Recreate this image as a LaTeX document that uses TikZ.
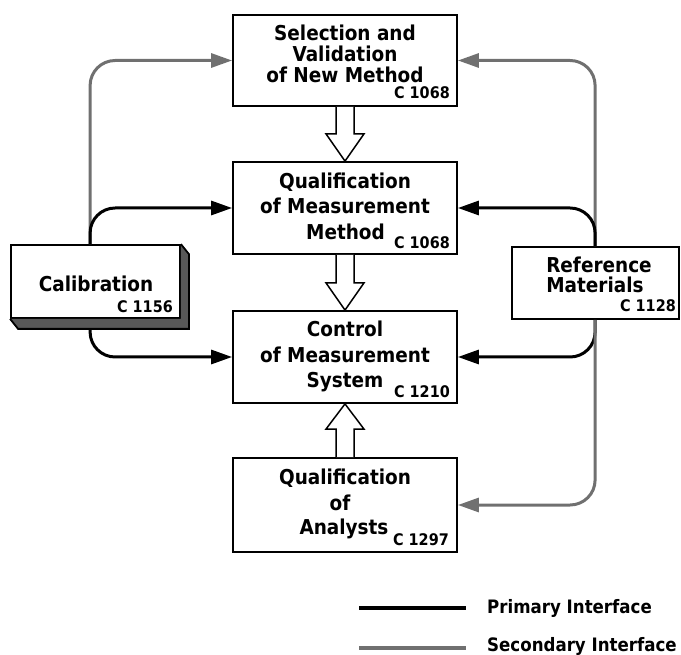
\documentclass[tikz,border=0pt]{standalone}
\usepackage{fontspec}
\IfFontExistsTF{DejaVu Sans Condensed Bold}{\setmainfont{DejaVu Sans Condensed Bold}}{\setmainfont{DejaVu Sans Bold}[FakeStretch=0.9]}
\usetikzlibrary{arrows.meta,calc}
\definecolor{secgray}{HTML}{707070}
\definecolor{shadegray}{HTML}{585858}
\begin{document}
\begin{tikzpicture}[x=1pt,y=-1pt,
  box/.style={draw, line width=1.8pt, minimum width=224pt, inner sep=0pt, fill=white},
  sidebox/.style={draw, line width=1.8pt, inner sep=0pt, fill=white},
  txt/.style={font=\fontsize{20.5}{23}\selectfont, anchor=base, inner sep=0pt},
  code/.style={font=\fontsize{16}{18}\selectfont, anchor=base east, inner sep=0pt},
  legtxt/.style={font=\fontsize{18.5}{20}\selectfont, anchor=base west, inner sep=0pt},
  prim/.style={line width=3pt, rounded corners=25pt},
  sec/.style={line width=3pt, draw=secgray, rounded corners=25pt},
  tip/.style={-{Triangle[length=21pt,width=14pt]}},
  hollow/.style={draw, line width=1.5pt, fill=white, line join=miter}
]
\useasboundingbox (0,0) rectangle (681,655);

% main boxes
\node[box, minimum height=91pt] (b1) at (345,60.5) {};
\node[box, minimum height=92pt] (b2) at (345,208) {};
\node[box, minimum height=92pt] (b3) at (345,357) {};
\node[box, minimum height=94pt] (b4) at (345,505) {};

% side boxes
\node[sidebox, minimum width=169pt, minimum height=73pt] (cal) at (95.5,281.5) {};
\fill[shadegray] (cal.north east) -- ($(cal.north east)+(8,10)$) -- ($(cal.south east)+(8,10)$)
  -- ($(cal.south west)+(8,10)$) -- (cal.south west) -- (cal.south east) -- cycle;
\draw[line width=1.8pt, line join=miter] (cal.north east) -- ($(cal.north east)+(8,10)$) -- ($(cal.south east)+(8,10)$)
  -- ($(cal.south west)+(8,10)$) -- (cal.south west);
\node[sidebox, minimum width=167pt, minimum height=72pt] (ref) at (595.5,283) {};

% connector anchors
\coordinate (cl) at ($(cal.north west)+(80,0)$);
\coordinate (clb) at ($(cal.south west)+(80,10)$);
\coordinate (rt) at ($(ref.north west)+(84,0)$);
\coordinate (rb) at ($(ref.south west)+(84,0)$);

\draw[sec,tip] (cl) |- (b1.west);
\draw[prim,tip] (cl) |- (b2.west);
\draw[prim,tip] (clb) |- (b3.west);
\draw[sec,tip] (rt) |- (b1.east);
\draw[prim,tip] (rt) |- (b2.east);
\draw[prim,tip] (rb) |- (b3.east);
\draw[sec,tip] (rb) |- (b4.east);

% hollow arrows
\draw[hollow] ($(b1.south)+(-9,0)$) -- ($(b1.south)+(-9,27)$) -- ($(b1.south)+(-19,27)$) -- (b2.north)
  -- ($(b1.south)+(19,27)$) -- ($(b1.south)+(9,27)$) -- ($(b1.south)+(9,0)$);
\draw[hollow] ($(b2.south)+(-9,0)$) -- ($(b2.south)+(-9,28)$) -- ($(b2.south)+(-19,28)$) -- (b3.north)
  -- ($(b2.south)+(19,28)$) -- ($(b2.south)+(9,28)$) -- ($(b2.south)+(9,0)$);
\draw[hollow] ($(b4.north)+(-9,0)$) -- ($(b4.north)+(-9,-28)$) -- ($(b4.north)+(-19,-28)$) -- (b3.south)
  -- ($(b4.north)+(19,-28)$) -- ($(b4.north)+(9,-28)$) -- ($(b4.north)+(9,0)$);

% texts box 1
\node[txt] (t1a) at (345,41) {Selection and};
\node[txt] (t1b) at (345,62) {Validation};
\node[txt] (t1c) at (345,83) {of New Method};
\node[code] (c1) at (450,99) {C 1068};
% box 2
\node[txt] (t2a) at (345,189) {Qualification};
\node[txt] (t2b) at (345,214) {of Measurement};
\node[txt] (t2c) at (345.5,240) {Method};
\node[code] (c2) at (450,249) {C 1068};
% box 3
\node[txt] (t3a) at (345,337) {Control};
\node[txt] (t3b) at (345,363) {of Measurement};
\node[txt] (t3c) at (345,388) {System};
\node[code] (c3) at (450,398) {C 1210};
% box 4
\node[txt] (t4a) at (345,485) {Qualification};
\node[txt] (t4b) at (340,510) {of};
\node[txt] (t4c) at (344,534) {Analysts};
\node[code] (c4) at (449,545) {C 1297};
% calibration
\node[txt] (tc) at (96,292) {Calibration};
\node[code] (cc) at (173,313) {C 1156};
% reference materials
\node[txt] (tr1) at (599,273) {Reference};
\node[txt] (tr2) at (595,293) {Materials};
\node[code] (cr) at (676,312) {C 1128};

% legend
\coordinate (l1a) at (359,608);
\coordinate (l1b) at (466,608);
\coordinate (l2a) at (359,648);
\coordinate (l2b) at (466,648);
\draw[line width=3.2pt] (l1a) -- (l1b);
\draw[line width=3.2pt, secgray] (l2a) -- (l2b);
\node[legtxt] (lg1) at (487,613) {Primary Interface};
\node[legtxt] (lg2) at (487,651) {Secondary Interface};
\end{tikzpicture}
\end{document}
